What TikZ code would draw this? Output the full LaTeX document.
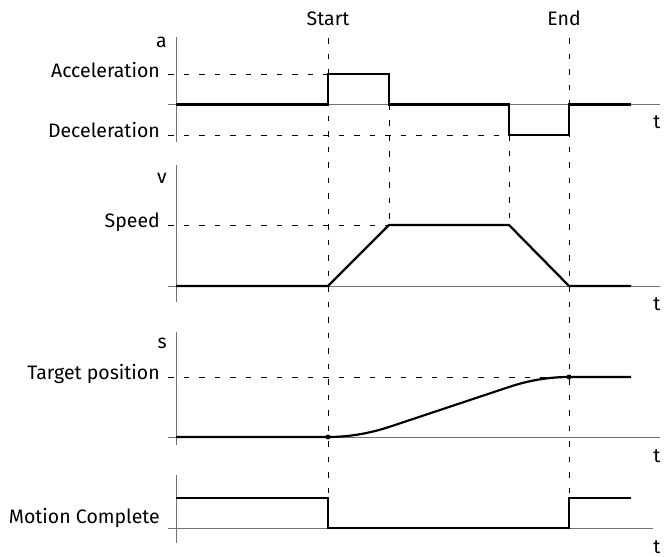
\documentclass[tikz,border=0pt]{standalone}
\usepackage{fontspec}
\setmainfont{Fira Sans}
\begin{document}
\begin{tikzpicture}[x=1pt,y=-1pt,
  axis/.style={draw=black!55,line width=0.8pt},
  sig/.style={draw=black,line width=2.3pt,line join=miter},
  guide/.style={draw=black,line width=0.9pt,dash pattern=on 5.5pt off 10pt},
  lbl/.style={anchor=base east,inner sep=0pt,font=\fontsize{19.5}{22}\selectfont},
  tl/.style={anchor=base,inner sep=0pt,font=\fontsize{19.5}{22}\selectfont},
  dot/.style={circle,fill=black,inner sep=0pt,minimum size=5pt}]
\useasboundingbox (0,0) rectangle (665,557);
% key coordinates
\def\xA{176}\def\xS{328}\def\xB{389}\def\xC{509}\def\xE{569}\def\xR{631}
% top labels
\node[tl] (start) at (\xS,25) {Start};
\node[tl] (end) at (564,25) {End};
% ---------- panel a ----------
\draw[axis] (\xA,37) -- (\xA,142);
\draw[axis] (168,104.5) -- (660,104.5);
\node[lbl] (la) at (167,47) {a};
\node[lbl] (lacc) at (160,77) {Acceleration};
\node[lbl] (ldec) at (160,137) {Deceleration};
\node[tl] (t1) at (657,128) {t};
\draw[guide] (168,74) -- (\xS,74);
\draw[guide] (168,135) -- (\xC,135);
\draw[sig] (\xA,104.5) -- (\xS,104.5) -- (\xS,74) -- (\xB,74) -- (\xB,104.5) -- (\xC,104.5) -- (\xC,135) -- (\xE,135) -- (\xE,104.5) -- (\xR,104.5);
% ---------- panel v ----------
\draw[axis] (\xA,165) -- (\xA,302);
\draw[axis] (168,286) -- (660,286);
\node[lbl] (lv) at (167,183) {v};
\node[lbl] (lspeed) at (160,227) {Speed};
\node[tl] (t2) at (657,310) {t};
\draw[guide] (168,225) -- (\xB,225);
\draw[sig] (\xA,286) -- (\xS,286) -- (\xB,225) -- (\xC,225) -- (\xE,286) -- (\xR,286);
% ---------- panel s ----------
\draw[axis] (\xA,332) -- (\xA,445);
\draw[axis] (168,437) -- (660,437);
\node[lbl] (ls) at (167,348) {s};
\node[lbl] (ltarget) at (160,379) {Target position};
\node[tl] (t3) at (657,462) {t};
\draw[guide] (168,377) -- (\xE,377);
\coordinate (s0) at (\xS,437);
\coordinate (s1) at (\xB,427);
\coordinate (s2) at (\xC,387);
\coordinate (s3) at (\xE,377);
\draw[sig,line width=2.2pt] (\xA,437) -- (s0) .. controls (348.3,437) and (368.2,433.7) .. (s1) -- (s2) .. controls (529,380.3) and (549,377) .. (s3) -- (\xR,377);
\node[dot] at (s0) {};
\node[dot] at (s3) {};
% ---------- panel motion complete ----------
\draw[axis] (\xA,475) -- (\xA,543);
\draw[axis] (168,528) -- (653,528);
\node[lbl] (lmc) at (160,523) {Motion Complete};
\node[tl] (t4) at (657,553) {t};
\draw[sig] (\xA,498) -- (\xS,498) -- (\xS,528) -- (\xE,528) -- (\xE,498) -- (\xR,498);
% ---------- vertical guides ----------
\draw[guide] (\xS,38) -- (\xS,498);
\draw[guide] (\xE,38) -- (\xE,498);
\draw[guide] (\xB,104.5) -- (\xB,225);
\draw[guide] (\xC,135) -- (\xC,225);
\end{tikzpicture}
\end{document}
